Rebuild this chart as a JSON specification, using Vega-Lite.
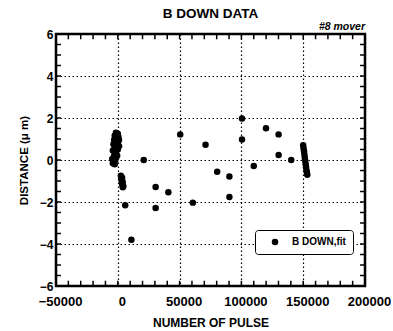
{
  "$schema": "https://vega.github.io/schema/vega-lite/v6.json",
  "width": 309,
  "height": 252,
  "autosize": {"type": "none"},
  "padding": {"left": 56, "top": 34, "right": 28, "bottom": 45},
  "background": "white",
  "title": {"text": "B DOWN DATA", "font": "Liberation Sans", "fontSize": 13.5, "fontWeight": "bold", "color": "black", "anchor": "middle", "offset": 2},
  "config": {
    "view": {"stroke": "black", "strokeWidth": 2.5},
    "axis": {"labelFont": "Liberation Sans", "labelFontWeight": "bold", "labelColor": "black", "titleFont": "Liberation Sans", "titleFontWeight": "bold", "titleColor": "black"}
  },
  "datasets": {
    "pts": [
      {"pulse": -1500, "distance": 1.3, "series": "B DOWN,fit"},
      {"pulse": 0, "distance": 1.25, "series": "B DOWN,fit"},
      {"pulse": -2500, "distance": 1.15, "series": "B DOWN,fit"},
      {"pulse": 500, "distance": 1.1, "series": "B DOWN,fit"},
      {"pulse": -1000, "distance": 1.05, "series": "B DOWN,fit"},
      {"pulse": -3000, "distance": 0.95, "series": "B DOWN,fit"},
      {"pulse": 1000, "distance": 0.95, "series": "B DOWN,fit"},
      {"pulse": -2000, "distance": 0.85, "series": "B DOWN,fit"},
      {"pulse": 0, "distance": 0.8, "series": "B DOWN,fit"},
      {"pulse": -3500, "distance": 0.75, "series": "B DOWN,fit"},
      {"pulse": -1000, "distance": 0.7, "series": "B DOWN,fit"},
      {"pulse": 1000, "distance": 0.65, "series": "B DOWN,fit"},
      {"pulse": -2500, "distance": 0.55, "series": "B DOWN,fit"},
      {"pulse": 0, "distance": 0.5, "series": "B DOWN,fit"},
      {"pulse": -4000, "distance": 0.45, "series": "B DOWN,fit"},
      {"pulse": -1500, "distance": 0.35, "series": "B DOWN,fit"},
      {"pulse": -3000, "distance": 0.2, "series": "B DOWN,fit"},
      {"pulse": -500, "distance": 0.2, "series": "B DOWN,fit"},
      {"pulse": -4500, "distance": 0.05, "series": "B DOWN,fit"},
      {"pulse": -2000, "distance": 0.0, "series": "B DOWN,fit"},
      {"pulse": -4000, "distance": -0.15, "series": "B DOWN,fit"},
      {"pulse": -2500, "distance": -0.2, "series": "B DOWN,fit"},
      {"pulse": 2500, "distance": -0.75, "series": "B DOWN,fit"},
      {"pulse": 3500, "distance": -0.85, "series": "B DOWN,fit"},
      {"pulse": 3000, "distance": -0.95, "series": "B DOWN,fit"},
      {"pulse": 4000, "distance": -1.05, "series": "B DOWN,fit"},
      {"pulse": 3500, "distance": -1.15, "series": "B DOWN,fit"},
      {"pulse": 4500, "distance": -1.25, "series": "B DOWN,fit"},
      {"pulse": 4000, "distance": -1.3, "series": "B DOWN,fit"},
      {"pulse": 6000, "distance": -2.15, "series": "B DOWN,fit"},
      {"pulse": 11000, "distance": -3.8, "series": "B DOWN,fit"},
      {"pulse": 21000, "distance": 0.0, "series": "B DOWN,fit"},
      {"pulse": 30600, "distance": -1.29, "series": "B DOWN,fit"},
      {"pulse": 30600, "distance": -2.29, "series": "B DOWN,fit"},
      {"pulse": 40900, "distance": -1.54, "series": "B DOWN,fit"},
      {"pulse": 50500, "distance": 1.22, "series": "B DOWN,fit"},
      {"pulse": 60700, "distance": -2.03, "series": "B DOWN,fit"},
      {"pulse": 71000, "distance": 0.73, "series": "B DOWN,fit"},
      {"pulse": 80400, "distance": -0.56, "series": "B DOWN,fit"},
      {"pulse": 90300, "distance": -0.79, "series": "B DOWN,fit"},
      {"pulse": 90300, "distance": -1.76, "series": "B DOWN,fit"},
      {"pulse": 100500, "distance": 1.98, "series": "B DOWN,fit"},
      {"pulse": 100500, "distance": 0.98, "series": "B DOWN,fit"},
      {"pulse": 110000, "distance": -0.29, "series": "B DOWN,fit"},
      {"pulse": 119900, "distance": 1.51, "series": "B DOWN,fit"},
      {"pulse": 130100, "distance": 1.22, "series": "B DOWN,fit"},
      {"pulse": 130100, "distance": 0.24, "series": "B DOWN,fit"},
      {"pulse": 140300, "distance": 0.0, "series": "B DOWN,fit"},
      {"pulse": 150000, "distance": 0.7, "series": "B DOWN,fit"},
      {"pulse": 150300, "distance": 0.55, "series": "B DOWN,fit"},
      {"pulse": 150700, "distance": 0.4, "series": "B DOWN,fit"},
      {"pulse": 151000, "distance": 0.25, "series": "B DOWN,fit"},
      {"pulse": 151300, "distance": 0.1, "series": "B DOWN,fit"},
      {"pulse": 151700, "distance": -0.05, "series": "B DOWN,fit"},
      {"pulse": 152000, "distance": -0.2, "series": "B DOWN,fit"},
      {"pulse": 152300, "distance": -0.35, "series": "B DOWN,fit"},
      {"pulse": 152700, "distance": -0.5, "series": "B DOWN,fit"},
      {"pulse": 153000, "distance": -0.6, "series": "B DOWN,fit"},
      {"pulse": 153300, "distance": -0.7, "series": "B DOWN,fit"}
    ],
    "xminor": [
      {"pulse": -40000}, {"pulse": -30000}, {"pulse": -20000}, {"pulse": -10000}, {"pulse": 0},
      {"pulse": 10000}, {"pulse": 20000}, {"pulse": 30000}, {"pulse": 40000}, {"pulse": 50000},
      {"pulse": 60000}, {"pulse": 70000}, {"pulse": 80000}, {"pulse": 90000}, {"pulse": 100000},
      {"pulse": 110000}, {"pulse": 120000}, {"pulse": 130000}, {"pulse": 140000}, {"pulse": 150000},
      {"pulse": 160000}, {"pulse": 170000}, {"pulse": 180000}, {"pulse": 190000}
    ],
    "yminor": [
      {"distance": -5.5}, {"distance": -5}, {"distance": -4.5}, {"distance": -4}, {"distance": -3.5},
      {"distance": -3}, {"distance": -2.5}, {"distance": -2}, {"distance": -1.5}, {"distance": -1},
      {"distance": -0.5}, {"distance": 0}, {"distance": 0.5}, {"distance": 1}, {"distance": 1.5},
      {"distance": 2}, {"distance": 2.5}, {"distance": 3}, {"distance": 3.5}, {"distance": 4},
      {"distance": 4.5}, {"distance": 5}, {"distance": 5.5}
    ]
  },
  "layer": [
    {
      "data": {"name": "pts"},
      "mark": {"type": "point", "filled": true, "opacity": 1, "size": 42, "shape": "circle"},
      "encoding": {
        "x": {"field": "pulse", "type": "quantitative", "title": "NUMBER OF PULSE", "scale": {"domain": [-50000, 200000], "nice": false, "zero": false},
          "axis": {"orient": "bottom", "values": [-50000, 0, 50000, 100000, 150000, 200000], "format": "d", "grid": true, "gridColor": "black", "gridDash": [1.5, 2.5], "gridWidth": 1.2, "gridOpacity": 1, "ticks": false, "domain": false, "labelFontSize": 13, "labelPadding": 9, "labelOffset": 4, "labelFlush": false, "labelOverlap": false, "titleFontSize": 12, "titlePadding": 9}},
        "y": {"field": "distance", "type": "quantitative", "title": "DISTANCE (μ m)", "scale": {"domain": [-6, 6], "nice": false, "zero": false},
          "axis": {"orient": "left", "values": [-6, -4, -2, 0, 2, 4, 6], "grid": true, "gridColor": "black", "gridDash": [1.5, 2.5], "gridWidth": 1.2, "gridOpacity": 1, "ticks": false, "domain": false, "labelFontSize": 12, "labelPadding": 3, "labelFlush": false, "labelOverlap": false, "titleFontSize": 11.5, "titlePadding": 10}},
        "color": {"field": "series", "type": "nominal", "scale": {"range": ["black"]},
          "legend": {"title": null, "orient": "none", "legendX": 199, "legendY": 196, "strokeColor": "black", "cornerRadius": 3, "padding": 7, "fillColor": "white", "symbolSize": 42, "symbolType": "circle", "labelFont": "Liberation Sans", "labelFontWeight": "bold", "labelFontSize": 10, "labelColor": "black", "symbolOffset": 8, "labelOffset": 12,
            "encode": {"legend": {"update": {"strokeWidth": {"value": 2}}}}}}
      }
    },
    {
      "data": {"name": "xminor"},
      "mark": {"type": "rule", "color": "black", "strokeWidth": 1.5},
      "encoding": {
        "x": {"field": "pulse", "type": "quantitative", "title": "NUMBER OF PULSE"},
        "y": {"datum": -6, "type": "quantitative"},
        "y2": {"datum": -5.75}
      }
    },
    {
      "data": {"name": "xminor"},
      "mark": {"type": "rule", "color": "black", "strokeWidth": 1.5},
      "encoding": {
        "x": {"field": "pulse", "type": "quantitative", "title": "NUMBER OF PULSE"},
        "y": {"datum": 6, "type": "quantitative"},
        "y2": {"datum": 5.75}
      }
    },
    {
      "data": {"name": "yminor"},
      "mark": {"type": "rule", "color": "black", "strokeWidth": 1.5},
      "encoding": {
        "y": {"field": "distance", "type": "quantitative", "title": "DISTANCE (μ m)"},
        "x": {"datum": -50000, "type": "quantitative"},
        "x2": {"datum": -46000}
      }
    },
    {
      "data": {"name": "yminor"},
      "mark": {"type": "rule", "color": "black", "strokeWidth": 1.5},
      "encoding": {
        "y": {"field": "distance", "type": "quantitative", "title": "DISTANCE (μ m)"},
        "x": {"datum": 200000, "type": "quantitative"},
        "x2": {"datum": 196000}
      }
    },
    {
      "data": {"values": [{"label": "#8 mover"}]},
      "mark": {"type": "text", "align": "right", "baseline": "bottom", "dy": -2, "font": "Liberation Sans", "fontWeight": "bold", "fontStyle": "italic", "fontSize": 10.5, "color": "black"},
      "encoding": {
        "text": {"field": "label", "type": "nominal"},
        "x": {"datum": 200000, "type": "quantitative"},
        "y": {"datum": 6, "type": "quantitative"}
      }
    }
  ]
}
